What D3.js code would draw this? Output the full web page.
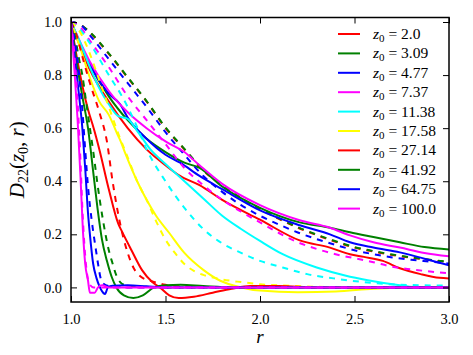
<!DOCTYPE html>
<html>
<head>
<meta charset="utf-8">
<script src="https://cdn.jsdelivr.net/npm/d3@7"></script>
<style>
  body { margin: 0; background: #fff; }
  text { font-family: "Liberation Serif", "DejaVu Serif", serif; fill: #000; }
</style>
</head>
<body>
<svg></svg>
<script>
width = 473;
height = 355;
svg = d3.select('svg')
  .attr('width', width)
  .attr('height', height);

// z0 values and line colours (matplotlib classic cycle)
z0Labels = ['2.0', '3.09', '4.77', '7.37', '11.38', '17.58', '27.14', '41.92', '64.75', '100.0'];
colors = ['#ff0000', '#008000', '#0000ff', '#ff00ff', '#00ffff', '#ffff00', '#ff0000', '#008000', '#0000ff', '#ff00ff'];
xTicks = [1.0, 1.5, 2.0, 2.5, 3.0];
yTicks = [0.0, 0.2, 0.4, 0.6, 0.8, 1.0];

// solid curves, [r, D22]
solid_2_0 = [[1.0,1.0],[1.1,0.82],[1.2,0.7],[1.3,0.6],[1.4,0.52],[1.5,0.46],[1.577,0.42],[1.68,0.385],[1.8,0.33],[2.0,0.255],[2.21,0.177],[2.37,0.15],[2.476,0.125],[2.55,0.115],[2.65,0.1],[2.74,0.072],[2.85,0.05],[2.95,0.036],[3.0,0.034]];
solid_3_09 = [[1.0,1.0],[1.1,0.84],[1.2,0.72],[1.3,0.63],[1.4,0.56],[1.5,0.51],[1.6,0.47],[1.68,0.45],[1.8,0.38],[2.0,0.3],[2.21,0.245],[2.37,0.225],[2.476,0.208],[2.6,0.19],[2.74,0.17],[2.87,0.152],[3.0,0.143]];
solid_4_77 = [[1.0,1.0],[1.1,0.84],[1.2,0.73],[1.26,0.69],[1.3,0.64],[1.4,0.56],[1.5,0.5],[1.577,0.47],[1.68,0.42],[1.8,0.37],[2.0,0.29],[2.21,0.234],[2.37,0.2],[2.476,0.17],[2.6,0.15],[2.74,0.132],[2.87,0.108],[3.0,0.083]];
solid_7_37 = [[1.0,1.0],[1.1,0.85],[1.2,0.74],[1.3,0.66],[1.4,0.6],[1.5,0.55],[1.6,0.51],[1.68,0.46],[1.8,0.39],[2.0,0.31],[2.21,0.253],[2.37,0.225],[2.476,0.196],[2.6,0.17],[2.74,0.15],[2.87,0.13],[3.0,0.117]];
solid_11_38 = [[1.0,1.0],[1.05,0.92],[1.1,0.83],[1.15,0.75],[1.2,0.69],[1.25,0.645],[1.3,0.635],[1.35,0.59],[1.42,0.52],[1.5,0.465],[1.6,0.4],[1.7,0.335],[1.8,0.27],[1.9,0.22],[2.0,0.175],[2.12,0.125],[2.3,0.075],[2.45,0.045],[2.57,0.027],[2.74,0.008],[2.85,0.0],[3.0,0.0]];
solid_17_58 = [[1.0,1.0],[1.05,0.9],[1.1,0.79],[1.15,0.7],[1.2,0.65],[1.22,0.62],[1.25,0.57],[1.26,0.555],[1.29,0.5],[1.35,0.4],[1.4,0.33],[1.45,0.27],[1.52,0.205],[1.6,0.13],[1.7,0.066],[1.79,0.025],[1.9,0.0],[2.0,-0.012],[2.2,-0.018],[2.4,-0.015],[2.6,-0.005],[2.8,0.0],[3.0,0.0]];
solid_27_14 = [[1.0,1.0],[1.03,0.87],[1.06,0.76],[1.09,0.67],[1.12,0.6],[1.15,0.52],[1.2,0.37],[1.25,0.24],[1.27,0.21],[1.32,0.14],[1.376,0.065],[1.43,0.02],[1.47,0.0],[1.52,-0.03],[1.57,-0.04],[1.65,-0.035],[1.75,-0.02],[1.85,-0.005],[1.95,0.005],[2.1,0.005],[2.3,0.0],[3.0,0.0]];
solid_41_92 = [[1.0,1.0],[1.03,0.85],[1.06,0.72],[1.09,0.6],[1.12,0.42],[1.14,0.3],[1.164,0.18],[1.19,0.1],[1.215,0.04],[1.24,0.0],[1.28,-0.03],[1.33,-0.04],[1.38,-0.03],[1.44,0.0],[1.5,0.008],[1.58,0.01],[1.7,0.005],[1.85,0.0],[3.0,0.0]];
solid_64_75 = [[1.0,1.0],[1.02,0.87],[1.04,0.74],[1.06,0.6],[1.075,0.45],[1.09,0.28],[1.1,0.2],[1.117,0.09],[1.135,0.035],[1.153,0.0],[1.17,-0.02],[1.18,-0.025],[1.195,0.0],[1.22,0.006],[1.3,0.008],[1.4,0.004],[1.5,0.0],[3.0,0.0]];
solid_100_0 = [[1.0,1.0],[1.01,0.9],[1.02,0.8],[1.035,0.63],[1.05,0.42],[1.063,0.215],[1.075,0.09],[1.09,0.026],[1.1,-0.02],[1.125,-0.02],[1.143,0.0],[1.165,0.008],[1.2,0.0],[3.0,0.0]];

// dashed curves, [r, D22]
dashed_2_0 = [[1.0,1.0],[1.05,0.99],[1.1,0.96],[1.2,0.88],[1.3,0.79],[1.4,0.7],[1.5,0.6],[1.6,0.52],[1.7,0.44],[1.8,0.385],[1.9,0.335],[2.0,0.295],[2.1,0.258],[2.2,0.225],[2.3,0.197],[2.4,0.172],[2.5,0.15],[2.6,0.135],[2.7,0.122],[2.8,0.112],[2.9,0.103],[3.0,0.095]];
dashed_3_09 = [[1.0,1.0],[1.05,0.99],[1.1,0.962],[1.2,0.882],[1.3,0.792],[1.4,0.702],[1.5,0.603],[1.6,0.522],[1.7,0.443],[1.8,0.387],[1.9,0.337],[2.0,0.297],[2.1,0.26],[2.2,0.227],[2.3,0.199],[2.4,0.174],[2.5,0.152],[2.6,0.137],[2.7,0.124],[2.8,0.113],[2.9,0.104],[3.0,0.096]];
dashed_4_77 = [[1.0,1.0],[1.05,0.99],[1.1,0.95],[1.2,0.86],[1.3,0.77],[1.4,0.68],[1.5,0.585],[1.6,0.5],[1.7,0.42],[1.8,0.36],[1.9,0.31],[2.0,0.27],[2.1,0.237],[2.2,0.207],[2.3,0.182],[2.4,0.16],[2.5,0.14],[2.6,0.125],[2.7,0.113],[2.8,0.104],[2.9,0.097],[3.0,0.09]];
dashed_7_37 = [[1.0,1.0],[1.05,0.98],[1.1,0.93],[1.2,0.83],[1.3,0.72],[1.4,0.63],[1.5,0.54],[1.6,0.45],[1.7,0.385],[1.8,0.33],[1.9,0.285],[2.0,0.245],[2.1,0.205],[2.2,0.17],[2.3,0.145],[2.4,0.125],[2.5,0.11],[2.6,0.095],[2.7,0.078],[2.8,0.068],[2.9,0.06],[3.0,0.053]];
dashed_11_38 = [[1.0,1.0],[1.05,0.97],[1.1,0.92],[1.2,0.8],[1.27,0.72],[1.34,0.62],[1.4,0.52],[1.5,0.4],[1.6,0.3],[1.7,0.22],[1.8,0.166],[1.9,0.13],[2.0,0.1],[2.12,0.075],[2.25,0.05],[2.39,0.034],[2.55,0.02],[2.74,0.01],[3.0,0.007]];
dashed_17_58 = [[1.0,1.0],[1.05,0.96],[1.1,0.88],[1.15,0.78],[1.2,0.68],[1.25,0.58],[1.3,0.49],[1.35,0.4],[1.4,0.33],[1.45,0.25],[1.5,0.18],[1.55,0.13],[1.6,0.088],[1.65,0.062],[1.7,0.047],[1.8,0.03],[1.9,0.02],[2.0,0.012],[2.2,0.005],[2.5,0.0],[3.0,0.0]];
dashed_27_14 = [[1.0,1.0],[1.03,0.95],[1.06,0.87],[1.1,0.77],[1.15,0.66],[1.19,0.55],[1.22,0.4],[1.26,0.24],[1.3,0.13],[1.33,0.075],[1.37,0.04],[1.42,0.025],[1.5,0.01],[1.6,0.003],[1.8,0.0],[3.0,0.0]];
dashed_41_92 = [[1.0,1.0],[1.02,0.95],[1.04,0.87],[1.06,0.8],[1.08,0.7],[1.1,0.6],[1.12,0.5],[1.14,0.39],[1.17,0.25],[1.2,0.14],[1.22,0.09],[1.24,0.045],[1.26,0.02],[1.29,0.008],[1.35,0.003],[1.5,0.0],[3.0,0.0]];
dashed_64_75 = [[1.0,1.0],[1.02,0.93],[1.04,0.82],[1.06,0.67],[1.075,0.52],[1.09,0.38],[1.11,0.25],[1.13,0.15],[1.145,0.08],[1.155,0.04],[1.17,0.015],[1.2,0.005],[1.3,0.0],[3.0,0.0]];
dashed_100_0 = [[1.0,1.0],[1.01,0.94],[1.02,0.86],[1.03,0.76],[1.04,0.63],[1.05,0.48],[1.06,0.3],[1.07,0.17],[1.08,0.08],[1.09,0.03],[1.1,0.01],[1.12,0.0],[3.0,0.0]];

solidCurves = [solid_2_0, solid_3_09, solid_4_77, solid_7_37, solid_11_38, solid_17_58, solid_27_14, solid_41_92, solid_64_75, solid_100_0];
dashedCurves = [dashed_2_0, dashed_3_09, dashed_4_77, dashed_7_37, dashed_11_38, dashed_17_58, dashed_27_14, dashed_41_92, dashed_64_75, dashed_100_0];

const pL = 71, pR = 449, pT = 17.5, pB = 302;
x = d3.scaleLinear().domain([1, 3]).range([pL, pR]);
y = d3.scaleLinear().domain([-0.055, 1.017]).range([pB, pT]);

svg.append('defs').append('clipPath').attr('id', 'clip')
  .append('rect').attr('x', pL).attr('y', pT)
  .attr('width', pR - pL).attr('height', pB - pT);

line = d3.line()
  .x(d => x(d[0]))
  .y(d => y(d[1]))
  .curve(d3.curveMonotoneX);

plot = svg.append('g').attr('clip-path', 'url(#clip)');
solidCurves.forEach((c, i) => {
  plot.append('path')
    .attr('d', line(c))
    .attr('fill', 'none')
    .attr('stroke', colors[i])
    .attr('stroke-width', 2);
  plot.append('path')
    .attr('d', line(dashedCurves[i]))
    .attr('fill', 'none')
    .attr('stroke', colors[i])
    .attr('stroke-width', 2)
    .attr('stroke-dasharray', '6,6');
});

// axes with inward ticks on all four sides
xAxis = d3.axisBottom(x).tickValues(xTicks).tickFormat(d3.format('.1f')).tickSizeInner(-6).tickSizeOuter(0).tickPadding(12);
yAxis = d3.axisLeft(y).tickValues(yTicks).tickFormat(d3.format('.1f')).tickSizeInner(-6).tickSizeOuter(0).tickPadding(9);
xTop = d3.axisTop(x).tickValues(xTicks).tickFormat('').tickSizeInner(-6).tickSizeOuter(0);
yRight = d3.axisRight(y).tickValues(yTicks).tickFormat('').tickSizeInner(-6).tickSizeOuter(0);

svg.append('g').attr('transform', `translate(0,${pB})`).call(xAxis);
svg.append('g').attr('transform', `translate(${pL},0)`).call(yAxis);
svg.append('g').attr('transform', `translate(0,${pT})`).call(xTop);
svg.append('g').attr('transform', `translate(${pR},0)`).call(yRight);
svg.selectAll('.domain').remove();
svg.selectAll('.tick line').attr('stroke', '#000').attr('stroke-width', 1);
svg.selectAll('.tick text').style('font-family', '"Liberation Serif", serif').style('font-size', '14.5px').attr('fill', '#000');

svg.append('rect')
  .attr('x', pL).attr('y', pT)
  .attr('width', pR - pL).attr('height', pB - pT)
  .attr('fill', 'none').attr('stroke', '#000').attr('stroke-width', 1.5);

// axis labels
svg.append('text')
  .attr('x', (pL + pR) / 2).attr('y', 343)
  .attr('text-anchor', 'middle')
  .style('font-size', '19px').style('font-style', 'italic')
  .text('r');

ylab = svg.append('text')
  .attr('transform', `translate(24,${(pT + pB) / 2}) rotate(-90)`)
  .attr('text-anchor', 'middle')
  .style('font-size', '21px');
ylab.append('tspan').style('font-style', 'italic').text('D');
ylab.append('tspan').attr('dy', 4).style('font-size', '14px').text('22');
ylab.append('tspan').attr('dy', -4).text('(');
ylab.append('tspan').style('font-style', 'italic').text('z');
ylab.append('tspan').attr('dy', 4).style('font-size', '14px').text('0');
ylab.append('tspan').attr('dy', -4).text(', ');
ylab.append('tspan').style('font-style', 'italic').text('r');
ylab.append('tspan').text(')');

// legend (solid lines only)
legend = svg.append('g');
z0Labels.forEach((lab, i) => {
  const yy = 34 + i * 19.4;
  legend.append('line')
    .attr('x1', 338).attr('x2', 360).attr('y1', yy).attr('y2', yy)
    .attr('stroke', colors[i]).attr('stroke-width', 2);
  const t = legend.append('text').attr('x', 373).attr('y', yy + 5).style('font-size', '15.5px');
  t.append('tspan').style('font-style', 'italic').text('z');
  t.append('tspan').attr('dy', 3).style('font-size', '11px').text('0');
  t.append('tspan').attr('dy', -3).text(' = ' + lab);
});
</script>
</body>
</html>
